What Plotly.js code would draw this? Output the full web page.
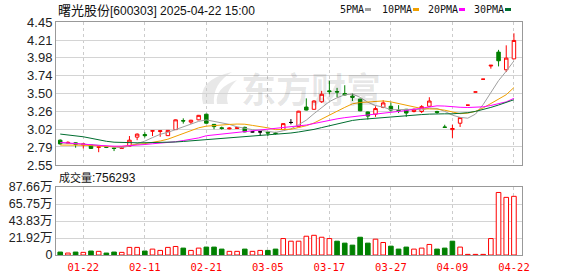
<!DOCTYPE html>
<html><head><meta charset="utf-8">
<script src="https://cdn.plot.ly/plotly-3.0.1.min.js"></script>
<style>html,body{margin:0;padding:0;background:#fff;}#chart{width:578px;height:276px;}</style>
</head><body><div id="chart"></div>
<script>
const stockName = '曙光股份';
const stockCode = '600303';
const stamp = '2025-04-22 15:00';

const dates = ['01-17','01-20','01-21','01-22','01-23','01-24','01-27','02-05','02-06','02-07',
  '02-10','02-11','02-12','02-13','02-14','02-17','02-18','02-19','02-20','02-21',
  '02-24','02-25','02-26','02-27','02-28','03-03','03-04','03-05','03-06','03-07',
  '03-10','03-11','03-12','03-13','03-14','03-17','03-18','03-19','03-20','03-21',
  '03-24','03-25','03-26','03-27','03-28','03-31','04-01','04-02','04-03','04-07',
  '04-08','04-09','04-10','04-11','04-14','04-15','04-16','04-17','04-18','04-22'];

const openP = [2.88,2.84,2.845,2.815,2.815,2.785,2.795,2.775,2.77,2.80,
  2.92,2.955,3.00,2.995,2.94,3.02,3.14,3.12,3.15,3.225,
  3.09,3.045,3.03,3.035,3.05,2.99,2.99,2.985,2.975,3.02,
  3.115,3.06,3.32,3.29,3.39,3.535,3.525,3.50,3.465,3.425,
  3.255,3.225,3.315,3.33,3.275,3.29,3.26,3.26,3.33,3.26,
  3.055,3.02,3.105,3.345,3.52,3.69,3.865,4.05,3.815,3.96];
const highP = [2.89,2.865,2.85,2.835,2.82,2.80,2.80,2.78,2.79,2.935,
  2.97,2.985,3.01,3.01,3.015,3.155,3.17,3.15,3.215,3.23,
  3.095,3.06,3.05,3.055,3.06,2.995,2.995,2.99,2.99,3.105,
  3.16,3.27,3.435,3.41,3.535,3.67,3.575,3.61,3.50,3.43,
  3.26,3.33,3.41,3.38,3.345,3.295,3.30,3.345,3.45,3.27,
  3.085,3.085,3.18,3.345,3.52,3.69,3.875,4.08,4.14,4.30];
const lowP = [2.82,2.83,2.78,2.77,2.765,2.72,2.775,2.735,2.765,2.795,
  2.88,2.915,2.935,2.925,2.935,3.02,3.10,3.095,3.145,3.10,
  3.025,3.02,3.025,3.03,2.985,2.985,2.935,2.935,2.955,3.02,
  3.09,3.055,3.275,3.285,3.375,3.49,3.45,3.475,3.40,3.265,
  3.155,3.19,3.305,3.26,3.24,3.19,3.25,3.24,3.325,3.23,
  3.05,2.91,3.055,3.345,3.52,3.69,3.83,3.86,3.785,3.96];
const closeP = [2.83,2.85,2.825,2.83,2.77,2.79,2.785,2.77,2.785,2.88,
  2.96,2.94,3.005,3.005,3.01,3.15,3.135,3.145,3.21,3.105,
  3.06,3.035,3.04,3.045,2.99,2.99,2.99,2.975,2.97,3.10,
  3.115,3.265,3.28,3.40,3.49,3.525,3.52,3.48,3.45,3.27,
  3.20,3.30,3.375,3.28,3.27,3.24,3.29,3.325,3.40,3.25,
  3.05,3.035,3.18,3.345,3.52,3.69,3.875,3.935,3.97,4.205];

// volume in 万手
const volume = [3.8,2.5,3.8,3.4,5.1,4.7,2.5,3.8,3.4,9.8,
  9.8,5.1,7.6,5.9,9.8,11.0,8.9,5.9,8.9,10.2,
  10.2,7.6,4.7,4.7,7.6,4.7,5.9,5.9,7.6,21.2,
  17.8,17.8,24.2,25.4,22.9,21.2,17.8,15.3,12.7,22.9,
  15.3,20.4,16.1,11.4,7.6,10.2,7.6,8.9,13.6,7.6,
  8.9,17.8,10.2,0.8,0.8,0.8,21.2,80.6,74.3,75.6293];

const ma5 = [2.845,2.84,2.835,2.83,2.821,2.813,2.80,2.789,2.78,2.802,
  2.836,2.867,2.914,2.958,2.984,3.022,3.061,3.089,3.13,3.149,
  3.131,3.111,3.09,3.057,3.034,3.02,3.011,2.998,2.983,3.005,
  3.03,3.085,3.146,3.232,3.31,3.392,3.443,3.483,3.493,3.449,
  3.384,3.34,3.319,3.285,3.285,3.293,3.291,3.281,3.305,3.301,
  3.263,3.212,3.183,3.172,3.226,3.353,3.52,3.671,3.796,3.933];
const ma10 = [2.815,2.816,2.815,2.813,2.808,2.80,2.795,2.792,2.795,2.812,
  2.825,2.834,2.85,2.869,2.893,2.929,2.964,3.001,3.044,3.066,
  3.076,3.086,3.089,3.094,3.092,3.076,3.061,3.044,3.02,3.02,
  3.025,3.048,3.072,3.108,3.157,3.21,3.264,3.315,3.363,3.38,
  3.388,3.392,3.401,3.389,3.367,3.339,3.316,3.30,3.295,3.293,
  3.278,3.252,3.232,3.239,3.263,3.308,3.366,3.427,3.484,3.579];
const ma20 = [2.85,2.845,2.838,2.828,2.82,2.81,2.803,2.80,2.80,2.805,
  2.812,2.822,2.832,2.84,2.848,2.859,2.875,2.892,2.91,2.939,
  2.95,2.959,2.969,2.981,2.993,3.003,3.012,3.023,3.032,3.043,
  3.051,3.067,3.081,3.101,3.125,3.143,3.163,3.179,3.191,3.20,
  3.207,3.22,3.237,3.248,3.262,3.274,3.29,3.307,3.329,3.336,
  3.333,3.322,3.317,3.314,3.315,3.323,3.341,3.363,3.389,3.436];
const ma30 = [2.961,2.952,2.94,2.925,2.905,2.882,2.865,2.853,2.847,2.845,
  2.845,2.846,2.847,2.848,2.85,2.856,2.863,2.871,2.88,2.885,
  2.89,2.895,2.903,2.912,2.922,2.932,2.942,2.95,2.958,2.966,
  2.975,2.989,3.004,3.023,3.047,3.072,3.096,3.12,3.142,3.155,
  3.163,3.175,3.187,3.197,3.205,3.208,3.214,3.22,3.226,3.231,
  3.23,3.23,3.235,3.245,3.262,3.285,3.315,3.347,3.38,3.417];

const priceTicks = [4.45,4.21,3.98,3.74,3.50,3.26,3.02,2.79,2.55];
const volTicks = [0,21.92,43.83,65.75,87.66];
const dateTicks = ['01-22','02-11','02-21','03-05','03-17','03-27','04-09','04-22'];
const maNames = ['5PMA','10PMA','20PMA','30PMA'];

// ---------- styling / layout ----------
const W = 578, H = 276, L = 56, R = 522;
const RED = '#ff0000', GREEN = '#008000', BLACK = '#000000';
const maColors = ['#a0a0a0','#f0a000','#ff00ff','#006e30'];
const px2x = p => (p - L) / (R - L);
const px2y = p => 1 - p / H;

const kinds = closeP.map((c, i) => {
  if (c > openP[i]) return 'up';
  if (c < openP[i]) return 'down';
  if (highP[i] === lowP[i]) return (i === 0 || c >= closeP[i - 1]) ? 'up' : 'down';
  return 'flat';
});

function candleTrace(kind, lineColor, fill) {
  const idx = dates.map((d, i) => i).filter(i => kinds[i] === kind);
  const sty = {line: {color: lineColor, width: 1}, fillcolor: fill};
  return {
    type: 'candlestick', xaxis: 'x', yaxis: 'y',
    x: idx.map(i => dates[i]), open: idx.map(i => openP[i]), high: idx.map(i => highP[i]),
    low: idx.map(i => lowP[i]), close: idx.map(i => closeP[i]),
    increasing: sty, decreasing: sty, whiskerwidth: 0,
    hoverinfo: 'skip', showlegend: false
  };
}

const traces = [
  candleTrace('up', RED, '#ffffff'),
  candleTrace('down', GREEN, GREEN),
  candleTrace('flat', BLACK, BLACK)
];
[ma5, ma10, ma20, ma30].forEach((m, k) => traces.push({
  type: 'scatter', mode: 'lines', x: dates, y: m, xaxis: 'x', yaxis: 'y',
  line: {color: maColors[k], width: 1}, hoverinfo: 'skip', showlegend: false
}));
const volUp = volume.map((v, i) => i === 0 ? closeP[0] >= openP[0] : closeP[i] >= closeP[i - 1]);
traces.push({
  type: 'bar', x: dates, y: volume, xaxis: 'x2', yaxis: 'y2', width: 0.6,
  marker: {color: volUp.map(u => u ? '#ffffff' : GREEN),
           line: {color: volUp.map(u => u ? RED : GREEN), width: 1}},
  hoverinfo: 'skip', showlegend: false
});

const xBase = {
  type: 'category', categoryorder: 'array', categoryarray: dates,
  range: [-0.55, 60.05], tickvals: dateTicks, ticktext: dateTicks,
  showgrid: true, gridcolor: '#cccccc', griddash: '3px,3px', gridwidth: 1,
  showline: true, mirror: true, linecolor: '#999999', linewidth: 1,
  zeroline: false, ticks: '', fixedrange: true, rangeslider: {visible: false}
};

const annotations = [
  {xref: 'paper', yref: 'paper', x: 0, y: px2y(9), xanchor: 'left', yanchor: 'middle',
   showarrow: false, font: {family: 'Liberation Sans, Arial, sans-serif', size: 12, color: '#111'},
   text: '<span style="font-family:Noto Sans CJK SC;font-size:13px">' + stockName + '</span>[' +
         stockCode + '] ' + stamp},
  {xref: 'paper', yref: 'paper', x: px2x(57), y: px2y(177), xanchor: 'left', yanchor: 'middle',
   showarrow: false, font: {family: 'Liberation Sans, Arial, sans-serif', size: 12, color: '#111'},
   text: '<span style="font-family:Noto Sans CJK SC;font-size:11px">成交量</span>:' +
         Math.round(volume[volume.length - 1] * 10000)},
  {xref: 'paper', yref: 'paper', x: px2x(311), y: px2y(88), xanchor: 'center', yanchor: 'middle',
   showarrow: false, font: {family: 'Noto Sans CJK SC', size: 35, color: 'rgba(0,0,0,0.1)', weight: 700},
   text: '东方财富'}
];
// watermark logo swoosh (drawn under the data)
const P = (x, y) => px2x(x).toFixed(4) + ',' + px2y(y).toFixed(4);
const shapes = [
  {type: 'path', xref: 'paper', yref: 'paper', layer: 'below', line: {width: 0},
   fillcolor: 'rgba(0,0,0,0.09)',
   path: 'M' + P(203, 104) + ' Q' + P(196, 80) + ' ' + P(232, 72) + ' Q' + P(212, 84) + ' ' + P(214, 104) + ' Z'},
  {type: 'path', xref: 'paper', yref: 'paper', layer: 'below', line: {width: 0},
   fillcolor: 'rgba(0,0,0,0.09)',
   path: 'M' + P(217, 104) + ' Q' + P(214, 88) + ' ' + P(237, 80) + ' Q' + P(224, 92) + ' ' + P(228, 104) + ' Z'}
];
const legX = [338, 380, 426, 472];
const sqX = [365, 413, 459, 505];
maNames.forEach((n, k) => {
  annotations.push({xref: 'paper', yref: 'paper', x: px2x(legX[k]), y: px2y(9.5),
    xanchor: 'left', yanchor: 'middle', showarrow: false,
    font: {family: 'DejaVu Sans Mono, monospace', size: 10, color: '#111'}, text: n});
  shapes.push({type: 'rect', xref: 'paper', yref: 'paper', x0: px2x(sqX[k]), x1: px2x(sqX[k] + 6),
    y0: px2y(11), y1: px2y(8), fillcolor: maColors[k], line: {width: 0}});
});

const layout = {
  width: W, height: H, margin: {l: L, r: W - R, t: 0, b: 0},
  paper_bgcolor: '#ffffff', plot_bgcolor: '#ffffff', showlegend: false,
  boxgap: 0.35, bargap: 0.3,
  xaxis: Object.assign({}, xBase, {anchor: 'y', showticklabels: false}),
  xaxis2: Object.assign({}, xBase, {anchor: 'y2', showticklabels: true, ticklabelstandoff: 2,
    tickfont: {family: 'DejaVu Sans Mono, monospace', size: 10.5, color: RED}}),
  yaxis: {domain: [px2y(165), px2y(22)], range: [2.55, 4.45], tickvals: priceTicks,
    ticktext: priceTicks.map(v => v.toFixed(2)), showgrid: true, gridcolor: '#d4d4d4',
    showline: true, mirror: true, linecolor: '#999999', zeroline: false, ticks: '',
    tickfont: {family: 'Liberation Sans, Arial, sans-serif', size: 13, color: '#222'}, fixedrange: true},
  yaxis2: {domain: [px2y(255), px2y(187)], range: [0, 87.66], tickvals: volTicks,
    ticktext: volTicks.map(v => v === 0 ? '0' : v.toFixed(2) + '万'), showgrid: true, gridcolor: '#d4d4d4',
    showline: true, mirror: true, linecolor: '#999999', zeroline: false, ticks: '',
    tickfont: {family: 'Liberation Sans, Arial, Noto Sans CJK SC, sans-serif', size: 12.5, color: '#222'},
    fixedrange: true},
  annotations: annotations, shapes: shapes
};

Plotly.newPlot('chart', traces, layout, {displayModeBar: false, staticPlot: true});
</script></body></html>
